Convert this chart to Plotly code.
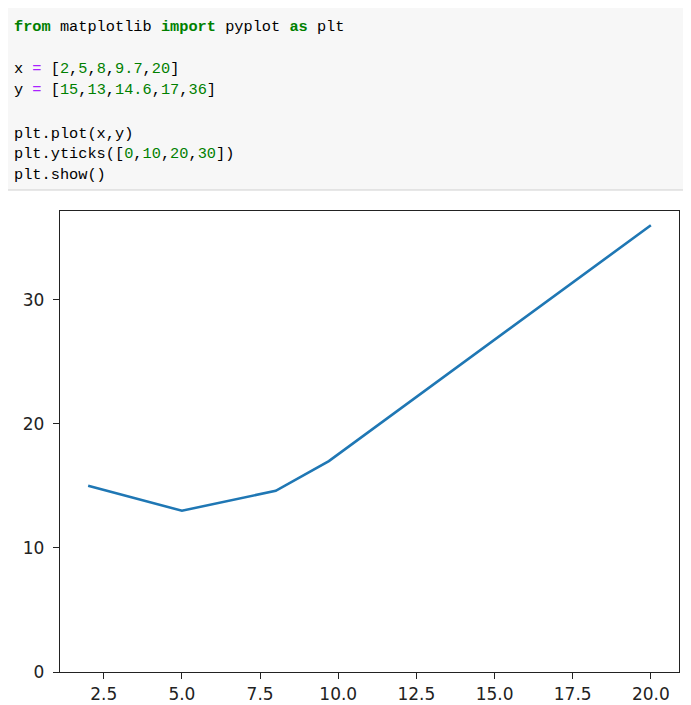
import plotly.graph_objects as go

# data from the notebook cell
x_vals = [2, 5, 8, 9.7, 20]
y_vals = [15, 13, 14.6, 17, 36]
y_ticks = [0, 10, 20, 30]
x_ticks = [2.5, 5.0, 7.5, 10.0, 12.5, 15.0, 17.5, 20.0]

OFF = 8  # page body margin
W, H = 691 - OFF, 705 - OFF
# plot box in screen pixels: x 60..679, y 211..672
L, R, T, B = 60 - OFF, W - (679 - OFF), 211 - OFF, H - (672 - OFF)
PW, PH = W - L - R, H - T - B


def px_x(p):
    return (p - OFF - L) / PW


def px_y(p):
    return (H - B - (p - OFF)) / PH


def kw(s):
    return f'<b><span style="color:#008000">{s}</span></b>'


def op(s):
    return f'<span style="color:#aa22ff">{s}</span>'


def num(v):
    return f'<span style="color:#008000">{v}</span>'


def nums(vals):
    return ",".join(num(v) for v in vals)


code_lines = [
    f'{kw("from")} matplotlib {kw("import")} pyplot {kw("as")} plt',
    "",
    f'x {op("=")} [{nums(x_vals)}]',
    f'y {op("=")} [{nums(y_vals)}]',
    "",
    "plt.plot(x,y)",
    f"plt.yticks([{nums(y_ticks)}])",
    "plt.show()",
]
line_y = [27.5, 48.5, 69.5, 90.5, 111.5, 133.5, 154.5, 174.5]

fig = go.Figure()
fig.add_trace(go.Scatter(
    x=x_vals, y=y_vals, mode="lines",
    line=dict(color="#1f77b4", width=2.6), showlegend=False, hoverinfo="skip",
))

# code cell background
fig.add_shape(
    type="rect", xref="paper", yref="paper",
    x0=px_x(6), x1=px_x(720), y0=px_y(190), y1=px_y(6),
    fillcolor="#f7f7f7", line=dict(color="#cfcfcf", width=1), layer="below",
)
for txt, ly in zip(code_lines, line_y):
    if not txt:
        continue
    fig.add_annotation(
        x=px_x(12), y=px_y(ly), xref="paper", yref="paper",
        xanchor="left", yanchor="middle", showarrow=False, text=txt,
        font=dict(family="Liberation Mono, monospace", size=15.3, color="#000"),
    )

axis_style = dict(
    showgrid=False, zeroline=False, showline=True, mirror=True, automargin=False,
    linecolor="#222", linewidth=1.3, ticks="outside", ticklen=6, tickwidth=1.3,
    tickcolor="#222",
    tickfont=dict(family="DejaVu Sans", size=17, color="#222"),
)
fig.update_xaxes(range=[1.1, 20.9], tickvals=x_ticks,
                 ticktext=[f"{v:.1f}" for v in x_ticks], **axis_style)
fig.update_yaxes(range=[0, 37.15], tickvals=y_ticks, ticklabelstandoff=5,
                 ticktext=[str(v) for v in y_ticks], **axis_style)

fig.update_layout(
    width=W, height=H,
    margin=dict(l=L, r=R, t=T, b=B),
    plot_bgcolor="white", paper_bgcolor="white",
    showlegend=False,
)
fig.write_html("out.html")
